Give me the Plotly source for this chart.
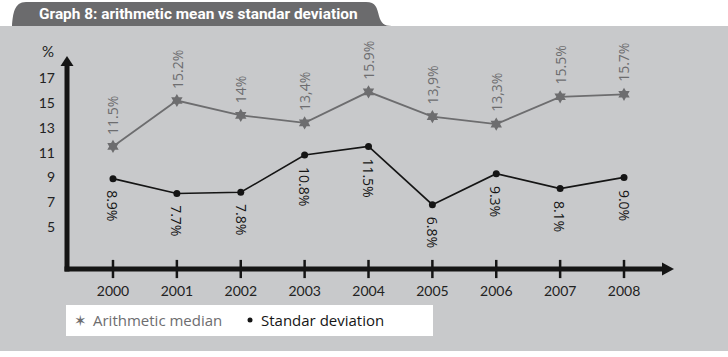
import plotly.graph_objects as go

# ---------------- data ----------------
years = [2000, 2001, 2002, 2003, 2004, 2005, 2006, 2007, 2008]
year_labels = [str(y) for y in years]
arith_median = [11.5, 15.2, 14.0, 13.4, 15.9, 13.9, 13.3, 15.5, 15.7]
arith_median_labels = ["11.5%", "15.2%", "14%", "13,4%", "15.9%", "13,9%", "13,3%", "15.5%", "15.7%"]
std_dev = [8.9, 7.7, 7.8, 10.8, 11.5, 6.8, 9.3, 8.1, 9.0]
std_dev_labels = ["8.9%", "7.7%", "7.8%", "10.8%", "11.5%", "6.8%", "9.3%", "8.1%", "9.0%"]
y_ticks = [5, 7, 9, 11, 13, 15, 17]
title_text = "Graph 8: arithmetic mean vs standar deviation"
series_names = ["Arithmetic median", "Standar deviation"]

# ---------------- layout geometry ----------------
W, H = 728, 357
L, R, T, B = 67, 55, 57, 88
PW, PH = W - L - R, H - T - B
X_RANGE = [1999.28, 2008.767]
Y_RANGE = [1.613, 18.71]

GRAY_BG = "#c8c9cb"
TAB = "#6b6b6d"
MEAN_C = "#6d6d6f"
STD_C = "#151515"


def px_x(px):
    return (px - L) / PW


def px_y(py):
    return (H - B - py) / PH


fig = go.Figure()

# series
fig.add_trace(go.Scatter(
    x=years, y=arith_median, mode="lines+markers", name=series_names[0],
    line=dict(color=MEAN_C, width=1.8),
    marker=dict(symbol="hexagram", size=10, color=MEAN_C),
    showlegend=False, cliponaxis=False))
fig.add_trace(go.Scatter(
    x=years, y=std_dev, mode="lines+markers", name=series_names[1],
    line=dict(color=STD_C, width=1.6),
    marker=dict(symbol="circle", size=7, color=STD_C),
    showlegend=False, cliponaxis=False))

# x tick marks crossing the axis
fig.add_trace(go.Scatter(
    x=years, y=[Y_RANGE[0]] * len(years), mode="markers",
    marker=dict(symbol="line-ns", size=13, line=dict(width=2.5, color=STD_C)),
    showlegend=False, hoverinfo="skip", cliponaxis=False))

shapes = []
# grey panel
shapes.append(dict(type="rect", xref="paper", yref="paper",
                   x0=px_x(0), x1=px_x(W), y0=px_y(351), y1=px_y(26),
                   fillcolor=GRAY_BG, line=dict(width=0), layer="below"))
# title tab
pts = [(12, 26), (13, 14), (14, 2), (26, 2), (366, 2), (376, 2), (377, 8), (379, 16),
       (381, 23), (384, 26), (392, 26)]
p = [(px_x(a), px_y(b)) for a, b in pts]
path = (f"M {p[0][0]},{p[0][1]} C {p[1][0]},{p[1][1]} {p[2][0]},{p[2][1]} {p[3][0]},{p[3][1]} "
        f"L {p[4][0]},{p[4][1]} C {p[5][0]},{p[5][1]} {p[6][0]},{p[6][1]} {p[7][0]},{p[7][1]} "
        f"C {p[8][0]},{p[8][1]} {p[9][0]},{p[9][1]} {p[10][0]},{p[10][1]} Z")
shapes.append(dict(type="path", xref="paper", yref="paper", path=path,
                   fillcolor=TAB, line=dict(width=0), layer="below"))
# axes lines
shapes.append(dict(type="line", xref="paper", yref="paper",
                   x0=px_x(67), x1=px_x(67), y0=px_y(271.5), y1=px_y(64),
                   line=dict(color=STD_C, width=5)))
shapes.append(dict(type="line", xref="paper", yref="paper",
                   x0=px_x(64.5), x1=px_x(665), y0=px_y(269), y1=px_y(269),
                   line=dict(color=STD_C, width=5)))
# arrowheads
shapes.append(dict(type="path", xref="paper", yref="paper",
                   path=f"M {px_x(67)},{px_y(56)} L {px_x(73.5)},{px_y(66)} L {px_x(60.5)},{px_y(66)} Z",
                   fillcolor=STD_C, line=dict(width=0)))
shapes.append(dict(type="path", xref="paper", yref="paper",
                   path=f"M {px_x(674)},{px_y(269)} L {px_x(662)},{px_y(262.5)} L {px_x(662)},{px_y(275.5)} Z",
                   fillcolor=STD_C, line=dict(width=0)))
# legend box
shapes.append(dict(type="rect", xref="paper", yref="paper",
                   x0=px_x(66), x1=px_x(433), y0=px_y(336), y1=px_y(305),
                   fillcolor="white", line=dict(width=0)))
# legend dot
shapes.append(dict(type="circle", xref="paper", yref="paper",
                   x0=px_x(247.5), x1=px_x(252.5), y0=px_y(322.5), y1=px_y(317.5),
                   fillcolor=STD_C, line=dict(width=0)))

annotations = []
# data labels
for x, v, t in zip(years, arith_median, arith_median_labels):
    annotations.append(dict(x=x, y=v, text=t, showarrow=False, textangle=-90,
                            xanchor="center", yanchor="bottom", yshift=10,
                            font=dict(family="Open Sans", size=14, color=MEAN_C)))
for x, v, t in zip(years, std_dev, std_dev_labels):
    annotations.append(dict(x=x, y=v, text=t, showarrow=False, textangle=90,
                            xanchor="center", yanchor="top", yshift=-10,
                            font=dict(family="Open Sans", size=14, color=STD_C)))
# % unit
annotations.append(dict(xref="paper", yref="paper", x=px_x(48), y=px_y(51), text="%",
                        showarrow=False, xanchor="center", yanchor="middle",
                        font=dict(family="Lato", size=15, color="#222")))
# title
annotations.append(dict(xref="paper", yref="paper", x=px_x(37), y=px_y(14), text=f"<b>{title_text}</b>",
                        showarrow=False, xanchor="left", yanchor="middle",
                        font=dict(family="Roboto", size=15.4, color="white")))
# legend texts & star
annotations.append(dict(xref="paper", yref="paper", x=px_x(80), y=px_y(320.5), text="✶",
                        showarrow=False, xanchor="center", yanchor="middle",
                        font=dict(family="DejaVu Sans", size=15, color=MEAN_C)))
annotations.append(dict(xref="paper", yref="paper", x=px_x(91), y=px_y(320), text=series_names[0],
                        showarrow=False, xanchor="left", yanchor="middle",
                        font=dict(family="Open Sans", size=15, color=MEAN_C)))
annotations.append(dict(xref="paper", yref="paper", x=px_x(259), y=px_y(320), text=series_names[1],
                        showarrow=False, xanchor="left", yanchor="middle",
                        font=dict(family="Open Sans", size=15, color=STD_C)))

fig.update_layout(
    width=W, height=H,
    margin=dict(l=L, r=R, t=T, b=B, pad=0),
    paper_bgcolor="white", plot_bgcolor="rgba(0,0,0,0)",
    shapes=shapes, annotations=annotations, showlegend=False,
    xaxis=dict(range=X_RANGE, tickvals=years, ticktext=year_labels, showgrid=False,
               zeroline=False, showline=False, ticks="", ticklabelstandoff=12,
               tickfont=dict(family="Lato", size=14, color="#222")),
    yaxis=dict(range=Y_RANGE, tickvals=y_ticks, ticktext=[str(v) for v in y_ticks],
               showgrid=False, zeroline=False, showline=False, ticks="", ticklabelstandoff=11,
               tickfont=dict(family="Lato", size=14, color="#222")),
)

fig.write_html("out.html", config={"displayModeBar": False},
               post_script="document.body.style.margin='0';document.body.style.overflow='hidden';")
